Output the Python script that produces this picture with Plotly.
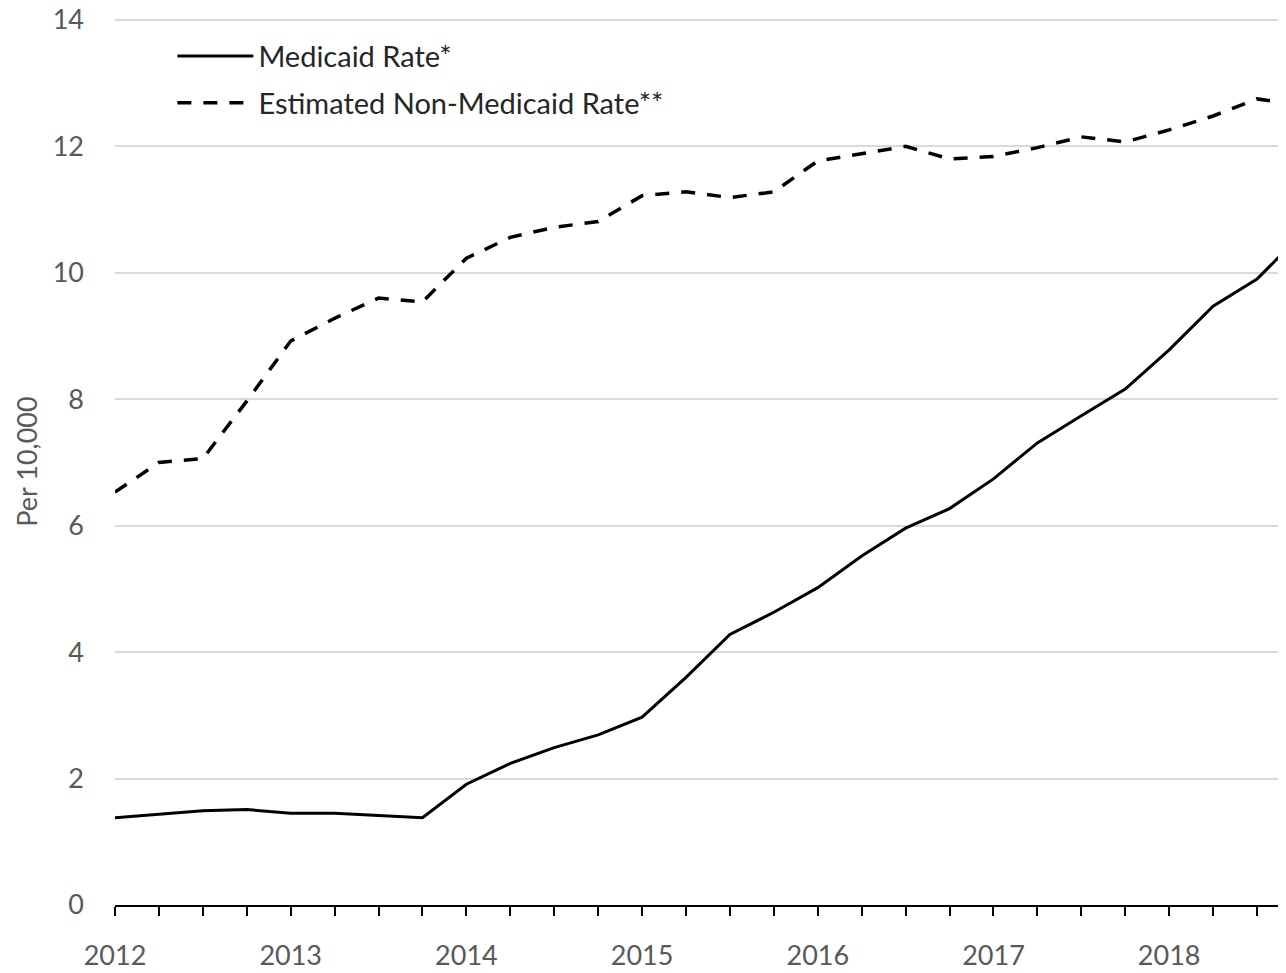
import plotly.graph_objects as go

quarters = [2012 + 0.25 * i for i in range(28)]
medicaid = [1.38, 1.44, 1.49, 1.51, 1.45, 1.45, 1.41, 1.38,
            1.91, 2.24, 2.49, 2.69, 2.97, 3.60, 4.28, 4.63,
            5.02, 5.52, 5.96, 6.27, 6.74, 7.31, 7.74, 8.16,
            8.78, 9.47, 9.90, 10.60]
non_medicaid = [6.53, 7.00, 7.06, 7.97, 8.92, 9.28, 9.60, 9.54,
                10.23, 10.56, 10.72, 10.81, 11.22, 11.28, 11.19, 11.28,
                11.77, 11.89, 12.00, 11.80, 11.84, 11.98, 12.15, 12.07,
                12.26, 12.48, 12.75, 12.65]
year_labels = ["2012", "2013", "2014", "2015", "2016", "2017", "2018"]
y_ticks = [0, 2, 4, 6, 8, 10, 12, 14]

tick_text = []
for q in quarters:
    if abs(q - round(q)) < 1e-9 and str(int(round(q))) in year_labels:
        tick_text.append(str(int(round(q))))
    else:
        tick_text.append("")

fig = go.Figure()
fig.add_trace(go.Scatter(
    x=quarters, y=medicaid, mode="lines", name="Medicaid Rate*",
    line=dict(color="black", width=3), legendgroup="a"))
fig.add_trace(go.Scatter(
    x=quarters, y=non_medicaid, mode="lines", name="Estimated Non-Medicaid Rate**",
    line=dict(color="black", width=3.5, dash="14px,12px"), legendgroup="b"))

FONT = "Lato, 'Open Sans', sans-serif"
fig.update_layout(
    width=1278, height=965,
    margin=dict(l=107, r=0, t=10, b=68),
    paper_bgcolor="white", plot_bgcolor="white",
    font=dict(family=FONT, color="#595959"),
    showlegend=True,
    legend=dict(x=0.049, y=0.9857, xanchor="left", yanchor="top",
                font=dict(size=29, color="#262626", family=FONT),
                traceorder="grouped", tracegroupgap=6,
                itemwidth=76, bgcolor="rgba(0,0,0,0)"),
    xaxis=dict(range=[2012, 2018.665], tickmode="array",
               tickvals=quarters, ticktext=tick_text,
               ticks="outside", ticklen=9, tickwidth=2, tickcolor="black",
               showline=True, linecolor="black", linewidth=2,
               showgrid=False, zeroline=False, automargin=False,
               tickfont=dict(size=27, color="#595959"),
               ticklabelstandoff=17, ticklabeloverflow="allow"),
    yaxis=dict(range=[0, 14.03], tickmode="array", tickvals=y_ticks,
               showgrid=True, gridcolor="#d9d9d9", gridwidth=1.5,
               zeroline=False, showline=False, automargin=False,
               tickfont=dict(size=27, color="#595959"),
               ticklabelstandoff=30, ticklabeloverflow="allow",
               title=dict(text="Per 10,000", font=dict(size=27, color="#595959"),
                          standoff=7)),
)

fig.write_html("out.html")
